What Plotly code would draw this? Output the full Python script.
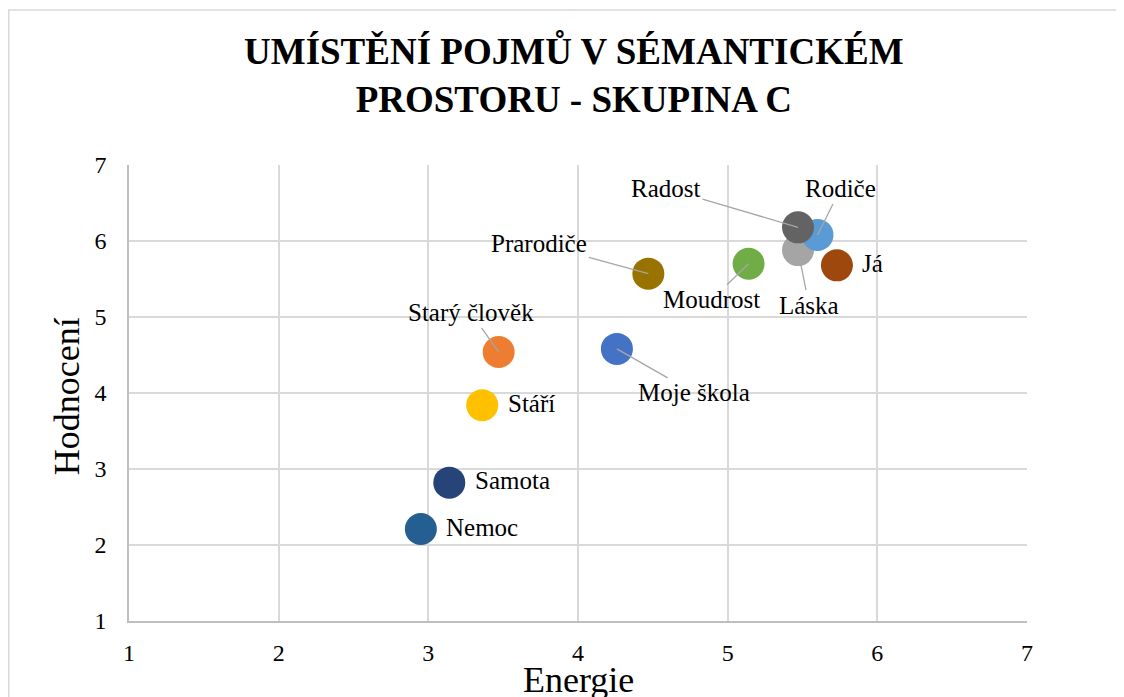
import plotly.graph_objects as go

# Pojmy a jejich souřadnice (Energie, Hodnocení)
pojmy = ["Moje škola", "Starý člověk", "Láska", "Stáří", "Rodiče", "Moudrost",
         "Samota", "Já", "Radost", "Prarodiče", "Nemoc"]
energie = [4.26, 3.47, 5.47, 3.36, 5.60, 5.14, 3.14, 5.73, 5.47, 4.47, 2.95]
hodnoceni = [4.58, 4.54, 5.88, 3.84, 6.08, 5.70, 2.82, 5.68, 6.18, 5.57, 2.21]
barvy = ["#4472C4", "#ED7D31", "#A5A5A5", "#FFC000", "#5B9BD5", "#70AD47",
         "#264478", "#9E480E", "#636363", "#997300", "#255E91"]
osa_ticks = [1, 2, 3, 4, 5, 6, 7]

# posun popisku (px) a zda ma vodici caru
popisky = {
    "Radost": (-132, -39, True),
    "Rodiče": (23, -46, True),
    "Láska": (11, 55, True),
    "Já": (23, -2, False),
    "Moudrost": (-37, 36, True),
    "Prarodiče": (-109, -30, True),
    "Starý člověk": (-28, -39, True),
    "Moje škola": (77, 44, True),
    "Stáří": (24, -2, False),
    "Samota": (24, -2, False),
    "Nemoc": (23, -2, False),
}

FONT = "Liberation Serif"

fig = go.Figure()
fig.add_trace(go.Scatter(
    x=energie, y=hodnoceni, mode="markers", text=pojmy,
    marker=dict(size=32, color=barvy, line=dict(width=0)),
    hoverinfo="text+x+y", showlegend=False,
))

for nazev, ex, ho in zip(pojmy, energie, hodnoceni):
    dx, dy, cara = popisky[nazev]
    if cara:
        fig.add_annotation(x=ex, y=ho, text=nazev, showarrow=True,
                           ax=dx, ay=dy, arrowhead=0, arrowwidth=1.3,
                           arrowcolor="#A6A6A6", standoff=0,
                           font=dict(family=FONT, size=25, color="black"))
    else:
        fig.add_annotation(x=ex, y=ho, text=nazev, showarrow=False,
                           xanchor="left", xshift=dx, yshift=-dy,
                           font=dict(family=FONT, size=25, color="black"))

# nadpis a popisky os
fig.add_annotation(xref="paper", yref="paper", x=0.4955, y=1.1985,
                   text="<b>UMÍSTĚNÍ POJMŮ V SÉMANTICKÉM<br>PROSTORU - SKUPINA C</b>",
                   showarrow=False, xanchor="center", yanchor="middle",
                   font=dict(family=FONT, size=37, color="black"))
fig.add_annotation(xref="paper", yref="paper", x=0.5, y=-0.13,
                   text="Energie", showarrow=False,
                   xanchor="center", yanchor="middle",
                   font=dict(family=FONT, size=36, color="black"))
fig.add_annotation(xref="paper", yref="paper", x=-0.069, y=0.493,
                   text="Hodnocení", showarrow=False, textangle=-90,
                   xanchor="center", yanchor="middle",
                   font=dict(family=FONT, size=36, color="black"))

# ramecek grafu
fig.add_shape(type="rect", xref="paper", yref="paper",
              x0=-0.1339, x1=1.3, y0=-0.3, y1=1.3399,
              line=dict(color="#D9D9D9", width=1.5), layer="below")

# stranka ma okraj 8 px, proto jsou okraje posunute
fig.update_layout(
    width=1124, height=697,
    margin=dict(l=121, r=105, t=157, b=84),
    paper_bgcolor="white", plot_bgcolor="white",
    font=dict(family=FONT, color="black"),
)

fig.update_xaxes(range=[1, 7], tickvals=osa_ticks, showgrid=True,
                 gridcolor="#D9D9D9", gridwidth=1.5, zeroline=False,
                 showline=True, linecolor="#BFBFBF", linewidth=1.5,
                 ticks="", ticklabelstandoff=9, automargin=False,
                 tickfont=dict(family=FONT, size=24))
fig.update_yaxes(range=[1, 7], tickvals=osa_ticks, showgrid=True,
                 gridcolor="#D9D9D9", gridwidth=1.5, zeroline=False,
                 showline=True, linecolor="#BFBFBF", linewidth=1.5,
                 ticks="", ticklabelstandoff=16, automargin=False,
                 tickfont=dict(family=FONT, size=24))

fig.write_html("out.html")
